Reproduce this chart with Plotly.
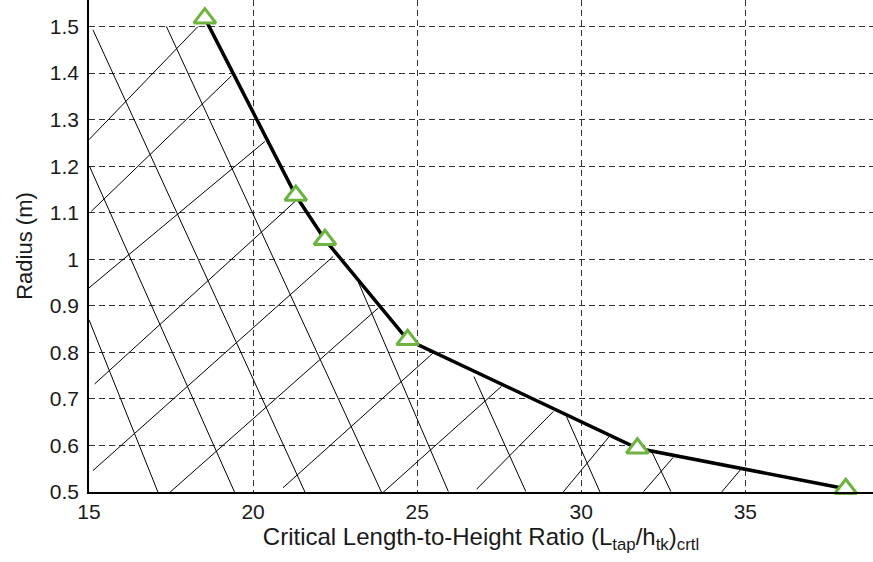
import plotly.graph_objects as go

# Main curve (critical length-to-height ratio vs radius)
ratio = [18.53, 21.30, 22.19, 24.71, 31.71, 38.06]
radius = [1.518, 1.137, 1.042, 0.827, 0.594, 0.507]

# Hatch segments: descending family
desc_x0 = [15.00, 15.02, 15.12, 17.36, 23.20, 26.73, 29.55, 32.16]
desc_y0 = [0.870, 1.199, 1.493, 1.500, 0.952, 0.748, 0.662, 0.585]
desc_x1 = [17.10, 19.44, 21.58, 23.91, 25.95, 28.31, 30.57, 32.73]
desc_y1 = [0.500, 0.499, 0.500, 0.500, 0.501, 0.501, 0.500, 0.501]

# ascending family
asc_x0 = [15.00, 15.07, 14.99, 15.17, 15.12, 17.46, 20.91, 23.96, 26.81, 29.45, 31.90, 34.28]
asc_y0 = [1.257, 1.103, 0.938, 0.732, 0.546, 0.499, 0.509, 0.499, 0.506, 0.500, 0.501, 0.500]
asc_x1 = [18.32, 19.34, 20.36, 21.37, 22.44, 23.81, 25.49, 27.57, 29.15, 30.84, 32.80, 34.90]
asc_y1 = [1.500, 1.394, 1.253, 1.130, 1.006, 0.895, 0.799, 0.727, 0.673, 0.618, 0.574, 0.552]

x_ticks = [15, 20, 25, 30, 35]
y_ticks = [0.5, 0.6, 0.7, 0.8, 0.9, 1.0, 1.1, 1.2, 1.3, 1.4, 1.5]
y_labels = ["0.5", "0.6", "0.7", "0.8", "0.9", "1", "1.1", "1.2", "1.3", "1.4", "1.5"]

hx, hy = [], []
for a, b, c, d in zip(desc_x0 + asc_x0, desc_y0 + asc_y0, desc_x1 + asc_x1, desc_y1 + asc_y1):
    hx += [a, c, None]
    hy += [b, d, None]

fig = go.Figure()
fig.add_trace(go.Scatter(x=hx, y=hy, mode="lines",
                         line=dict(color="black", width=1), hoverinfo="skip",
                         showlegend=False))
fig.add_trace(go.Scatter(x=ratio, y=radius, mode="lines+markers",
                         line=dict(color="black", width=3.5),
                         marker=dict(symbol="triangle-up", size=19, color="white",
                                     line=dict(color="#6DB33F", width=3)),
                         showlegend=False, cliponaxis=False))

font = dict(family="Liberation Sans, Arial, sans-serif", size=21, color="#1a1a1a")
fig.update_layout(
    width=873, height=562,
    margin=dict(l=89, r=0, t=0, b=70),
    paper_bgcolor="white", plot_bgcolor="white",
    font=font,
    xaxis=dict(range=[15, 38.89], tickvals=x_ticks, ticks="", showline=True,
               linecolor="black", linewidth=1.5, showgrid=True, gridcolor="#333333",
               gridwidth=1, griddash="6px,4px", zeroline=False,
               ticklabelstandoff=0, tickfont=dict(size=21),
               title=dict(text="Critical Length-to-Height Ratio (L<sub>tap</sub>/h<sub>tk</sub>)<sub>crtl</sub>",
                          font=dict(size=24), standoff=5)),
    yaxis=dict(range=[0.5, 1.557], tickvals=y_ticks, ticktext=y_labels, ticks="",
               showline=True, linecolor="black", linewidth=1.5, showgrid=True,
               gridcolor="#333333", gridwidth=1, griddash="6px,4px", zeroline=False,
               ticklabelstandoff=4, tickfont=dict(size=21),
               title=dict(text="Radius (m)", font=dict(size=22), standoff=11)),
)
fig.write_html("out.html")
